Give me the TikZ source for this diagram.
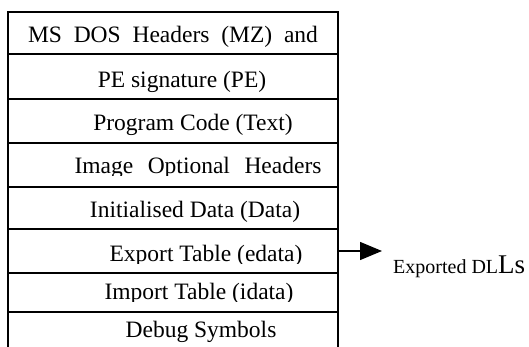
\documentclass[tikz,border=0pt]{standalone}
\usepackage{fontspec}
\setmainfont{Liberation Serif}
\usetikzlibrary{arrows.meta}
\begin{document}
\begin{tikzpicture}[x=1pt, y=-1pt,
    frame/.style={line width=1.6pt},
    rowtext/.style={anchor=base, inner sep=0pt, font=\fontsize{23.5}{28}\selectfont}]
    \useasboundingbox (0,0) rectangle (529,347);

    % Section texts (clipped at the bottom as in the layout)
    \foreach \n/\x/\y/\cut/\txt in {
        1/173/43/54/{\makebox[290pt][s]{MS DOS Headers (MZ) and}},
        2/182/88/97/{PE signature (PE)},
        3/193/131/143/{Program Code (Text)},
        4/198/174/176/{\makebox[247pt][s]{Image Optional Headers}},
        5/195/218/229/{Initialised Data (Data)},
        6/206/261/263/{Export Table (edata)},
        7/199/299/301/{Import Table (idata)},
        8/201/337/347/{Debug Symbols}}
    {
        \begin{scope}
            \clip (8,12) rectangle (338,\cut);
            \node[rowtext] (row\n) at (\x,\y) {\txt};
        \end{scope}
    }

    % Table frame
    \draw[frame] (8,347) -- (8,12) -- (338,12) -- (338,347);
    \foreach \y in {54,99,143,187,229,273,312}
        \draw[frame] (8,\y) -- (338,\y);

    % Arrow
    \coordinate (edata) at (338,251);
    \coordinate (tip) at (382,251);
    \draw[line width=1.3pt, -{Triangle[length=22pt, width=18pt]}] (edata) -- (tip);
    \node[anchor=base west, inner sep=0pt, font=\fontsize{20}{24}\selectfont] (dll) at (393,273)
        {Exported DL{\fontsize{27}{30}\selectfont Ls}};
\end{tikzpicture}
\end{document}
